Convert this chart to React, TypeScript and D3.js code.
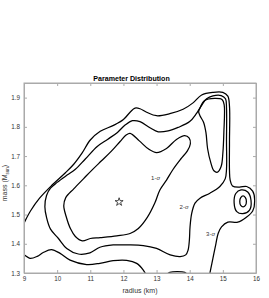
import React, { useEffect, useRef } from 'react'
import * as d3 from 'd3'

// contour traces: [radius (km), mass (Msun)]
const sigma1Main = [
  [12.2, 1.778], [12.48, 1.752], [12.76, 1.724], [13.0, 1.712], [13.3, 1.726], [13.6, 1.757],
  [13.85, 1.77], [13.98, 1.762], [14.02, 1.742], [13.93, 1.718], [13.73, 1.69], [13.5, 1.655],
  [13.3, 1.618], [13.1, 1.584], [12.95, 1.54], [12.72, 1.49], [12.45, 1.452], [12.2, 1.435],
  [11.8, 1.427], [11.3, 1.421], [11.0, 1.418], [10.76, 1.41], [10.55, 1.425], [10.4, 1.452],
  [10.27, 1.494], [10.2, 1.53], [10.26, 1.558], [10.5, 1.588], [10.8, 1.623], [11.05, 1.652],
  [11.33, 1.683], [11.63, 1.716], [11.9, 1.75], [12.08, 1.772],
]
const sigma1Tall = [
  [14.3, 1.862], [14.45, 1.89], [14.75, 1.897], [14.98, 1.893], [15.04, 1.875], [15.03, 1.78],
  [15.0, 1.71], [14.95, 1.665], [14.84, 1.645], [14.73, 1.65], [14.63, 1.68], [14.54, 1.725],
  [14.49, 1.78], [14.42, 1.815], [14.31, 1.838], [14.27, 1.852],
]
const sigma1Blob = [
  [15.61, 1.564], [15.68, 1.558], [15.71, 1.545], [15.68, 1.531],
  [15.61, 1.526], [15.54, 1.531], [15.51, 1.545], [15.54, 1.558],
]
const sigma2Main = [
  [9.63, 1.527], [9.68, 1.565], [9.8, 1.59], [10.0, 1.61], [10.3, 1.635], [10.55, 1.655],
  [10.85, 1.69], [11.21, 1.733], [11.52, 1.757], [11.82, 1.781], [12.05, 1.806], [12.27, 1.821],
  [12.5, 1.818], [12.8, 1.797], [13.05, 1.783], [13.35, 1.786], [13.65, 1.798], [14.0, 1.818],
  [14.2, 1.845], [14.35, 1.872], [14.51, 1.896], [14.7, 1.906], [14.95, 1.907], [15.08, 1.896],
  [15.11, 1.865], [15.11, 1.75], [15.11, 1.655], [15.07, 1.622], [14.91, 1.596], [14.61, 1.573],
  [14.31, 1.556], [14.16, 1.539], [14.06, 1.504], [14.01, 1.458], [13.99, 1.413], [13.95, 1.378],
  [13.88, 1.362], [13.71, 1.356], [13.41, 1.362], [13.0, 1.384], [12.6, 1.394], [12.1, 1.396],
  [11.69, 1.396], [11.29, 1.388], [10.99, 1.369], [10.64, 1.365], [10.29, 1.384], [10.04, 1.418],
  [9.8, 1.45], [9.68, 1.49],
]
const sigma2Blob = [
  [15.55, 1.584], [15.75, 1.577], [15.85, 1.548], [15.8, 1.514], [15.6, 1.503],
  [15.42, 1.51], [15.34, 1.54], [15.39, 1.572],
]
const sigma3Upper = [
  [8.95, 1.46], [9.0, 1.471], [9.2, 1.513], [9.47, 1.556], [9.84, 1.6], [10.25, 1.643],
  [10.5, 1.672], [10.75, 1.71], [11.0, 1.755], [11.3, 1.785], [11.7, 1.805], [12.0, 1.825],
  [12.2, 1.85], [12.35, 1.864], [12.5, 1.862], [12.7, 1.85], [13.0, 1.838], [13.4, 1.845],
  [13.8, 1.86], [14.1, 1.882], [14.36, 1.909], [14.7, 1.918], [15.0, 1.918], [15.15, 1.905],
  [15.2, 1.87], [15.2, 1.75], [15.2, 1.65], [15.22, 1.618], [15.29, 1.598], [15.5, 1.594],
  [15.72, 1.596], [15.9, 1.58], [15.96, 1.55], [15.9, 1.512], [15.7, 1.49], [15.45, 1.474],
  [15.15, 1.474], [14.96, 1.458], [14.86, 1.436], [14.79, 1.4], [14.7, 1.35], [14.61, 1.3],
  [14.58, 1.28],
]
const sigma3Lower = [
  [8.9, 1.365], [9.0, 1.362], [9.18, 1.35], [9.4, 1.357], [9.58, 1.37], [9.83, 1.38],
  [10.09, 1.367], [10.39, 1.344], [10.89, 1.329], [11.29, 1.333], [11.69, 1.342], [12.1, 1.343],
  [12.4, 1.333], [12.6, 1.31], [12.7, 1.29],
]
const sigma3Bump = [[13.25, 1.29], [13.4, 1.302], [13.62, 1.305], [13.85, 1.302], [13.97, 1.29]]

const closedContours = [sigma1Main, sigma1Tall, sigma1Blob, sigma2Main, sigma2Blob]
const openContours = [sigma3Upper, sigma3Lower, sigma3Bump]

const sigmaLabels = [
  { n: '1', r: 12.97, m: 1.625 },
  { n: '2', r: 13.83, m: 1.526 },
  { n: '3', r: 14.63, m: 1.432 },
]
const bestFit = [11.87, 1.543]

const xTicks = [9, 10, 11, 12, 13, 14, 15, 16]
const yTicks = [1.3, 1.4, 1.5, 1.6, 1.7, 1.8, 1.9]

const FONT = '"Liberation Sans", Arial, Helvetica, sans-serif'

export default function App() {
  const ref = useRef(null)

  useEffect(() => {
    const W = 269, H = 298
    const left = 24, right = 256, top = 83, bottom = 273
    const svg = d3.select(ref.current)
    svg.selectAll('*').remove()
    svg.attr('width', W).attr('height', H)

    const x = d3.scaleLinear().domain([9, 16]).range([left, right])
    const y = d3.scaleLinear().domain([1.3, 1.95]).range([bottom, top])

    svg.append('rect').attr('width', W).attr('height', H).attr('fill', '#fff')

    svg.append('clipPath').attr('id', 'plotclip')
      .append('rect').attr('x', left).attr('y', top)
      .attr('width', right - left).attr('height', bottom - top)

    const g = svg.append('g').attr('clip-path', 'url(#plotclip)')
    const closed = d3.line().x(d => x(d[0])).y(d => y(d[1])).curve(d3.curveCatmullRomClosed.alpha(0.5))
    const open = d3.line().x(d => x(d[0])).y(d => y(d[1])).curve(d3.curveCatmullRom.alpha(0.5))

    for (let c of closedContours) {
      g.append('path').attr('d', closed(c))
        .attr('fill', 'none').attr('stroke', '#000').attr('stroke-width', 1.25)
    }
    for (let c of openContours) {
      g.append('path').attr('d', open(c))
        .attr('fill', 'none').attr('stroke', '#000').attr('stroke-width', 1.25)
    }

    // star marking the best fit
    g.append('path')
      .attr('d', d3.symbol(d3.symbolStar, 20)())
      .attr('transform', 'translate(' + x(bestFit[0]) + ',' + y(bestFit[1]) + ')')
      .attr('fill', 'none').attr('stroke', '#000').attr('stroke-width', 0.7)

    for (let l of sigmaLabels) {
      const t = g.append('text')
        .attr('x', x(l.r)).attr('y', y(l.m) + 2)
        .attr('text-anchor', 'middle')
        .attr('font-family', FONT).attr('font-size', 6).attr('fill', '#333')
      t.append('tspan').text(l.n + '-')
      t.append('tspan').attr('font-style', 'italic').text('σ')
    }

    // axes, ticks inward on all four sides
    const tk = 3
    const styleAxis = (sel) => {
      sel.select('.domain').attr('stroke', '#aaa')
      sel.selectAll('.tick line').attr('stroke', '#aaa')
      sel.selectAll('.tick text').attr('fill', '#333').attr('font-family', FONT).attr('font-size', 6.3)
    }
    svg.append('g').attr('transform', 'translate(0,' + bottom + ')')
      .call(d3.axisBottom(x).tickValues(xTicks).tickSizeInner(-tk).tickSizeOuter(0).tickPadding(4).tickFormat(d3.format('d')))
      .call(styleAxis)
    svg.append('g').attr('transform', 'translate(0,' + top + ')')
      .call(d3.axisTop(x).tickValues(xTicks).tickSizeInner(-tk).tickSizeOuter(0).tickFormat(() => ''))
      .call(styleAxis)
    svg.append('g').attr('transform', 'translate(' + left + ',0)')
      .call(d3.axisLeft(y).tickValues(yTicks).tickSizeInner(-tk).tickSizeOuter(0).tickPadding(4).tickFormat(d3.format('.1f')))
      .call(styleAxis)
    svg.append('g').attr('transform', 'translate(' + right + ',0)')
      .call(d3.axisRight(y).tickValues(yTicks).tickSizeInner(-tk).tickSizeOuter(0).tickFormat(() => ''))
      .call(styleAxis)
    svg.append('rect').attr('x', left).attr('y', top)
      .attr('width', right - left).attr('height', bottom - top)
      .attr('fill', 'none').attr('stroke', '#aaa').attr('stroke-width', 1)

    svg.append('text')
      .attr('x', 131.5).attr('y', 81)
      .attr('text-anchor', 'middle')
      .attr('font-family', FONT).attr('font-size', 7.1).attr('font-weight', 'bold').attr('fill', '#000')
      .text('Parameter Distribution')

    svg.append('text')
      .attr('x', (left + right) / 2).attr('y', 293)
      .attr('text-anchor', 'middle')
      .attr('font-family', FONT).attr('font-size', 7).attr('fill', '#333')
      .text('radius (km)')

    const yl = svg.append('text')
      .attr('transform', 'translate(7,183) rotate(-90)')
      .attr('text-anchor', 'middle')
      .attr('font-family', FONT).attr('font-size', 7).attr('fill', '#333')
    yl.append('tspan').text('mass (M')
    yl.append('tspan').attr('font-size', 4.5).attr('dy', 1.5).text('sun')
    yl.append('tspan').attr('dy', -1.5).text(')')
  }, [])

  return (
    <div style={{ position: 'absolute', left: 0, top: 0 }}>
      <svg ref={ref} style={{ display: 'block' }} />
    </div>
  )
}
